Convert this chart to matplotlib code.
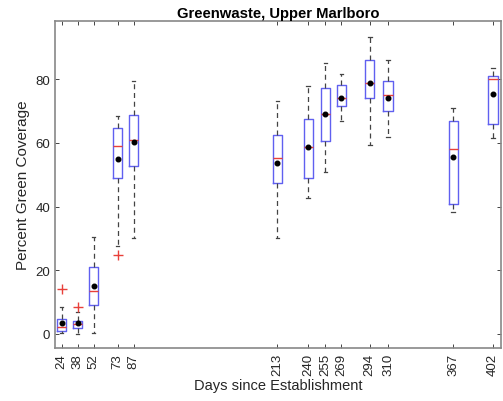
import matplotlib
matplotlib.use("Agg")
import matplotlib.pyplot as plt
from matplotlib import rcParams

rcParams['font.family'] = 'sans-serif'
rcParams['font.sans-serif'] = ['Liberation Sans']
rcParams['font.size'] = 9.5

# days since establishment (box positions)
days = [24, 38, 52, 73, 87, 213, 240, 255, 269, 294, 310, 367, 402]

# box statistics
whisk_lo = [0.3, 0.0, 0.2, 27.5, 30.2, 30.0, 42.8, 50.7, 66.7, 59.4, 61.9, 38.4, 61.4]
q1 = [0.8, 1.9, 9.0, 48.8, 52.6, 47.5, 48.8, 60.6, 71.5, 74.1, 70.1, 40.9, 65.9]
med = [2.3, 3.2, 13.6, 58.9, 61.0, 55.1, 58.7, 68.9, 74.2, 78.8, 74.9, 58.0, 80.1]
q3 = [4.7, 4.2, 21.0, 64.6, 68.8, 62.5, 67.5, 77.2, 78.2, 85.9, 79.3, 66.8, 81.0]
whisk_hi = [8.3, 6.8, 30.5, 68.5, 79.3, 73.1, 77.8, 85.2, 81.5, 93.3, 85.9, 70.9, 83.5]
means = [3.4, 3.4, 15.1, 54.9, 60.4, 53.8, 58.7, 68.9, 74.2, 78.8, 74.2, 55.4, 75.2]
outliers = [[14.2], [8.6], [], [24.9], [], [], [], [], [], [], [], [], []]

stats = []
for i in range(len(days)):
    stats.append(dict(whislo=whisk_lo[i], q1=q1[i], med=med[i], q3=q3[i],
                      whishi=whisk_hi[i], mean=means[i], fliers=outliers[i]))

fig = plt.figure(figsize=(5.03, 4.02), dpi=100, facecolor='white')
ax = fig.add_axes([0.109, 0.132, 0.887, 0.813])

ax.bxp(stats, positions=days, widths=8, showmeans=True, manage_ticks=False,
       boxprops=dict(color='#6060f0', linewidth=1.0),
       medianprops=dict(color='#e8403a', linewidth=1.0),
       whiskerprops=dict(color='#444444', linestyle=(0, (4, 3)), linewidth=0.9),
       capprops=dict(color='#444444', linewidth=0.9),
       capwidths=3,
       meanprops=dict(marker='o', markerfacecolor='black', markeredgecolor='black', markersize=3.3),
       flierprops=dict(marker='+', markeredgecolor='#e8403a', markersize=7, linestyle='none'))

ax.set_xlim(17.9, 409)
ax.set_ylim(-4.4, 98.2)
ax.set_xticks(days)
ax.set_xticklabels([str(d) for d in days], rotation=90)
ax.set_yticks([0, 20, 40, 60, 80])

ax.tick_params(axis='both', direction='in', length=3, width=0.6, colors='#262626',
               top=True, right=True, labelcolor='#262626')
for s in ax.spines.values():
    s.set_color('#888888')
    s.set_linewidth(1.2)

ax.set_xlabel('Days since Establishment', fontsize=10.5, color='#262626', labelpad=2)
ax.set_ylabel('Percent Green Coverage', fontsize=11, color='#262626')
ax.set_title('Greenwaste, Upper Marlboro', fontsize=10.7, fontweight='bold', pad=3)

fig.savefig('out.png', dpi=100, facecolor='white')
